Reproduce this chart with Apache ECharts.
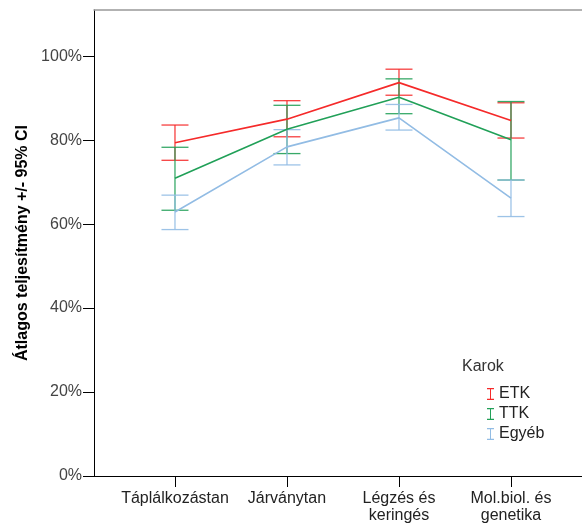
<!DOCTYPE html>
<html>
<head>
<meta charset="utf-8">
<script src="https://cdn.jsdelivr.net/npm/echarts@6/dist/echarts.min.js"></script>
<style>html,body{margin:0;padding:0;background:#fff;}#c{width:582px;height:524px;}</style>
</head>
<body>
<div id="c"></div>
<script>
const categories = ['Táplálkozástan', 'Járványtan', 'Légzés és\nkeringés', 'Mol.biol. és\ngenetika'];
const groups = ['ETK', 'TTK', 'Egyéb'];
const colors = ['#f52a2a', '#21a058', '#92bce4'];
const yTicks = [0, 20, 40, 60, 80, 100];

const etkMean = [79.4, 85.0, 93.7, 84.7];
const etkLow  = [75.2, 80.8, 90.7, 80.5];
const etkHigh = [83.6, 89.4, 96.9, 88.9];

const ttkMean = [70.9, 82.6, 90.2, 80.1];
const ttkLow  = [63.3, 76.8, 86.3, 70.5];
const ttkHigh = [78.3, 88.3, 94.6, 89.2];

const egyMean = [62.9, 78.4, 85.3, 66.2];
const egyLow  = [58.7, 74.1, 82.4, 61.8];
const egyHigh = [66.9, 82.5, 88.5, 70.5];

const means = [etkMean, ttkMean, egyMean];
const lows = [etkLow, ttkLow, egyLow];
const highs = [etkHigh, ttkHigh, egyHigh];

const catIdx = categories.map((c, i) => i);
const font = 'Liberation Sans, Arial, sans-serif';
const iconPath = 'path://M0,0H7V1.2H4V10.8H7V12H0V10.8H3V1.2H0Z';

const chart = echarts.init(document.getElementById('c'), null, {renderer: 'canvas'});

const series = [];
groups.forEach((g, k) => {
  series.push({
    name: g,
    type: 'custom',
    z: 3,
    itemStyle: {color: colors[k]},
    data: catIdx.map(i => [i, lows[k][i], highs[k][i]]),
    renderItem: function (params, api) {
      const x = api.value(0);
      const pLo = api.coord([x, api.value(1)]);
      const pHi = api.coord([x, api.value(2)]);
      const h = 13.5;
      const st = {stroke: colors[k], lineWidth: 1.3, opacity: 0.9};
      return {
        type: 'group',
        children: [
          {type: 'line', shape: {x1: pLo[0], y1: pLo[1], x2: pHi[0], y2: pHi[1]}, style: st},
          {type: 'line', shape: {x1: pLo[0] - h, y1: pLo[1], x2: pLo[0] + h, y2: pLo[1]}, style: st},
          {type: 'line', shape: {x1: pHi[0] - h, y1: pHi[1], x2: pHi[0] + h, y2: pHi[1]}, style: st}
        ]
      };
    }
  });
  series.push({
    name: g,
    type: 'line',
    z: 4,
    symbol: 'none',
    itemStyle: {color: colors[k]},
    lineStyle: {color: colors[k], width: 1.6},
    data: catIdx.map(i => [i, means[k][i]])
  });
});

chart.setOption({
  animation: false,
  backgroundColor: '#fff',
  textStyle: {fontFamily: font},
  title: {
    text: 'Karok',
    left: 457,
    top: 354,
    textStyle: {fontFamily: font, fontSize: 16, fontWeight: 'normal', color: '#333'}
  },
  legend: {
    orient: 'vertical',
    left: 482,
    top: 381,
    itemWidth: 7,
    itemHeight: 12,
    itemGap: 4,
    selectedMode: false,
    textStyle: {fontFamily: font, fontSize: 16, color: '#222', lineHeight: 15},
    data: groups.map(g => ({name: g, icon: iconPath}))
  },
  grid: {left: 94, right: 0, top: 10, bottom: 47},
  xAxis: [{
    type: 'value',
    min: -0.723,
    max: 3.634,
    splitLine: {show: false},
    axisLine: {show: true, onZero: false, lineStyle: {color: '#000', width: 1}},
    axisTick: {show: true, customValues: catIdx, length: 11, lineStyle: {color: '#000'}},
    axisLabel: {
      customValues: catIdx,
      formatter: v => categories[Math.round(v)],
      margin: 14,
      fontFamily: font,
      fontSize: 16,
      color: '#222',
      lineHeight: 17
    }
  }, {
    type: 'value',
    position: 'top',
    min: -0.723,
    max: 3.634,
    splitLine: {show: false},
    axisLine: {show: true, onZero: false, lineStyle: {color: '#999', width: 1.5}},
    axisTick: {show: false},
    axisLabel: {show: false}
  }],
  yAxis: {
    type: 'value',
    min: 0,
    max: 111,
    name: 'Átlagos teljesítmény +/- 95% CI',
    nameLocation: 'middle',
    nameGap: 62,
    nameTextStyle: {fontFamily: font, fontSize: 16, fontWeight: 'bold', color: '#000'},
    splitLine: {show: false},
    axisLine: {show: true, onZero: false, lineStyle: {color: '#000', width: 1}},
    axisTick: {show: true, customValues: yTicks, length: 11, lineStyle: {color: '#000'}},
    axisLabel: {
      customValues: yTicks,
      formatter: v => v + '%',
      margin: 12,
      fontFamily: font,
      fontSize: 16,
      color: '#444'
    }
  },
  series: series
});
</script>
</body>
</html>
